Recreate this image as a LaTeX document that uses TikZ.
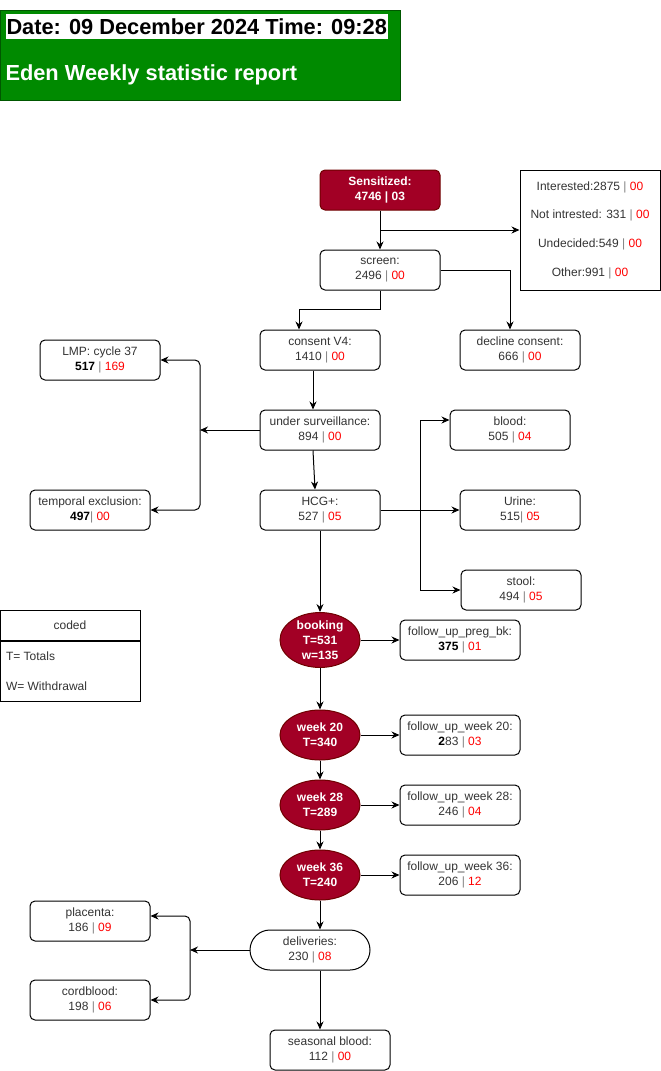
\documentclass[tikz,border=0pt]{standalone}
\usepackage{fontspec}
\setmainfont{Liberation Sans}
\usepackage{xcolor}
\usetikzlibrary{arrows.meta,shapes.geometric}
\definecolor{crim}{HTML}{A20025}
\definecolor{crimdk}{HTML}{6F0000}
\definecolor{hdgreen}{HTML}{008A00}
\definecolor{hdgreendk}{HTML}{005700}
\definecolor{txt}{HTML}{333333}
\definecolor{valred}{HTML}{FF0000}
\newcommand{\redv}[1]{\textcolor{valred}{#1}}
\newcommand{\vsep}{\textcolor{gray}{|}}
\tikzset{
	box/.style={draw, rounded corners=5pt, minimum width=120pt, minimum height=40pt, inner sep=1pt,
			align=center, text=txt, font=\fontsize{12}{15}\selectfont},
	stage/.style={ellipse, draw=crimdk, fill=crim, minimum width=80pt, minimum height=50pt, inner sep=0pt,
			align=center, text=white, font=\bfseries\fontsize{12}{15}\selectfont},
	flow/.style={-{Stealth[length=8pt,width=7pt]}},
	branch/.style={flow, rounded corners=5pt}
}

\begin{document}
\begin{tikzpicture}[x=1pt, y=-1pt, line width=1pt]
	\useasboundingbox (0,0) rectangle (661,1071);

	\node[draw=hdgreendk, fill=hdgreen, minimum width=400pt, minimum height=90pt, inner sep=0pt] (banner) at (200,55) {};
	\node[fill=white, anchor=west, inner sep=1pt, minimum height=25pt, font=\bfseries\fontsize{21.8}{25}\selectfont] (stamp) at (5,26.5) {Date: 09 December 2024 Time: 09:28};
	\node[anchor=west, inner sep=1pt, text=white, font=\bfseries\fontsize{21.8}{25}\selectfont] (title) at (4,75) {Eden Weekly statistic report};

	\node[box, draw=crimdk, fill=crim, text=white, font=\bfseries\fontsize{12}{15}\selectfont] (sens) at (380,190) {Sensitized:\\4746 | 03};
	\node[draw, minimum width=140pt, minimum height=120pt, align=center, text=txt, font=\fontsize{12}{28.7}\selectfont] (info) at (590,230)
		{Interested:2875 \vsep{} \redv{00}\\Not intrested: 331 \vsep{} \redv{00}\\Undecided:549 \vsep{} \redv{00}\\Other:991 \vsep{} \redv{00}};
	\node[box] (screen) at (380,270) {screen:\\2496 \vsep{} \redv{00}};
	\node[box] (consent) at (320,350) {consent V4:\\1410 \vsep{} \redv{00}};
	\node[box] (decline) at (520,350) {decline consent:\\666 \vsep{} \redv{00}};
	\node[box] (surv) at (320,430) {under surveillance:\\894 \vsep{} \redv{00}};
	\node[box] (lmp) at (100,360) {LMP: cycle 37\\\textcolor{black}{\textbf{517}} \vsep{} \redv{169}};
	\node[box] (temporal) at (90,510) {temporal exclusion:\\\textcolor{black}{\textbf{497}}\vsep{} \redv{00}};
	\node[box] (hcg) at (320,510) {HCG+:\\527 \vsep{} \redv{05}};
	\node[box] (blood) at (510,430) {blood:\\505 \vsep{} \redv{04}};
	\node[box] (urine) at (520,510) {Urine:\\515\vsep{} \redv{05}};
	\node[box] (stool) at (521,590) {stool:\\494 \vsep{} \redv{05}};

	\node[draw, minimum width=140pt, minimum height=30pt, text=txt, font=\fontsize{12}{15}\selectfont] (codedhd) at (70,625) {coded};
	\node[draw, minimum width=140pt, minimum height=60pt, anchor=north] (codedbd) at (codedhd.south) {};
	\node[anchor=west, inner sep=6pt, align=left, text=txt, font=\fontsize{12}{30}\selectfont] (codedtx) at (codedbd.west) {T= Totals\\W= Withdrawal};

	\node[stage] (booking) at (320,640) {booking\\T=531\\w=135};
	\node[stage] (w20) at (320,735) {week 20\\T=340};
	\node[stage] (w28) at (320,805) {week 28\\T=289};
	\node[stage] (w36) at (320,875) {week 36\\T=240};
	\node[box] (fbk) at (460,640) {follow\_up\_preg\_bk:\\\textcolor{black}{\textbf{375}} \vsep{} \redv{01}};
	\node[box] (f20) at (460,735) {follow\_up\_week 20:\\\textcolor{black}{\textbf{2}}83 \vsep{} \redv{03}};
	\node[box] (f28) at (460,805) {follow\_up\_week 28:\\246 \vsep{} \redv{04}};
	\node[box] (f36) at (460,875) {follow\_up\_week 36:\\206 \vsep{} \redv{12}};

	\node[box, rounded corners=20pt] (deliv) at (310,950) {deliveries:\\230 \vsep{} \redv{08}};
	\node[box] (placenta) at (90,921) {placenta:\\186 \vsep{} \redv{09}};
	\node[box] (cord) at (90,1000) {cordblood:\\198 \vsep{} \redv{06}};
	\node[box] (seasonal) at (330,1050) {seasonal blood:\\112 \vsep{} \redv{00}};

	\coordinate (split1) at (200,430);
	\coordinate (split2) at (420,510);
	\coordinate (split3) at (190,950);

	\draw[flow] (sens) -- (screen);
	\draw[flow] (sens.south |- info.west) -- (info.west);
	\draw[flow] (screen.east) -| ([xshift=-10pt]decline.north);
	\draw[flow] (screen.south) -- ++(0,19) -| ([xshift=-21pt]consent.north);
	\draw[flow] ([xshift=-7pt]consent.south) -- ([xshift=-7pt]surv.north);
	\draw[flow] (surv.west) -- (split1);
	\draw[branch] (split1) |- (lmp.east);
	\draw[branch] (split1) |- (temporal.east);
	\draw[flow] ([xshift=-7pt]surv.south) -- ([xshift=-5pt]hcg.north);
	\draw[flow] (hcg.east) -- (urine.west);
	\draw[flow] (split2) |- ([yshift=10pt]blood.west);
	\draw[flow] (split2) |- (stool.west);
	\draw[flow] (hcg.south) -- (booking.north);
	\draw[flow] (booking) -- (fbk);
	\draw[flow] (booking) -- (w20);
	\draw[flow] (w20) -- (f20);
	\draw[flow] (w20) -- (w28);
	\draw[flow] (w28) -- (f28);
	\draw[flow] (w28) -- (w36);
	\draw[flow] (w36) -- (f36);
	\draw[flow] (w36.south) -- (w36.south |- deliv.north);
	\draw[flow] (deliv.west) -- (split3);
	\draw[branch] (split3) |- ([yshift=5pt]placenta.east);
	\draw[branch] (split3) |- (cord.east);
	\draw[flow] (deliv.south -| w36.south) -- (seasonal.north -| w36.south);
\end{tikzpicture}
\end{document}
